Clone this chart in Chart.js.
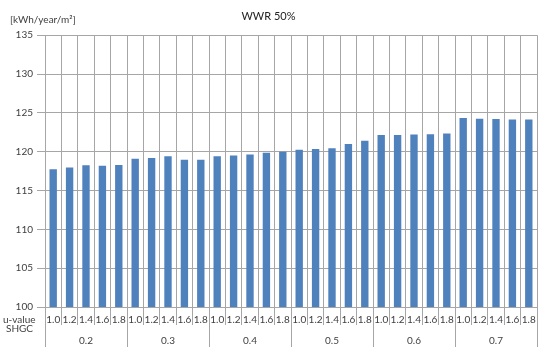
<!DOCTYPE html>
<html>
<head>
<meta charset="utf-8">
<script src="https://cdn.jsdelivr.net/npm/chart.js@4"></script>
<style>
  html, body { margin: 0; padding: 0; background: #fff; }
  #wrap { width: 550px; height: 358px; }
</style>
</head>
<body>
<div id="wrap"><canvas id="energyChart"></canvas></div>
<script>
// u-value steps inside each SHGC group
const uValues = ['1.0', '1.2', '1.4', '1.6', '1.8'];
const shgcGroups = ['0.2', '0.3', '0.4', '0.5', '0.6', '0.7'];

// energy use per SHGC group [kWh/year/m2]
const shgc02 = [117.75, 117.95, 118.25, 118.2, 118.3];
const shgc03 = [119.1, 119.2, 119.4, 118.95, 118.95];
const shgc04 = [119.4, 119.5, 119.65, 119.85, 120.0];
const shgc05 = [120.25, 120.35, 120.45, 121.0, 121.4];
const shgc06 = [122.15, 122.15, 122.2, 122.25, 122.35];
const shgc07 = [124.35, 124.25, 124.2, 124.15, 124.15];

const yTicks = [100, 105, 110, 115, 120, 125, 130, 135];

const labels = [];
shgcGroups.forEach(() => uValues.forEach(u => labels.push(u)));
const values = [].concat(shgc02, shgc03, shgc04, shgc05, shgc06, shgc07);

const gridColor = '#a6a6a6';
const textColor = '#404040';
const font = 'Lato';

// draws the SHGC row, the row captions and the unit text
const groupAxisPlugin = {
  id: 'groupAxis',
  afterDraw(chart) {
    const ctx = chart.ctx;
    const x = chart.scales.x;
    const step = x.getPixelForValue(1) - x.getPixelForValue(0);
    const n = uValues.length;
    ctx.save();
    ctx.strokeStyle = gridColor;
    ctx.lineWidth = 1;
    for (let g = 0; g <= shgcGroups.length; g++) {
      const px = Math.round(x.getPixelForValue(g * n) - step / 2) + 0.5;
      ctx.beginPath();
      ctx.moveTo(px, x.top);
      ctx.lineTo(px, x.top + 40);
      ctx.stroke();
    }
    ctx.fillStyle = textColor;
    ctx.font = '10px ' + font;
    ctx.textAlign = 'center';
    ctx.textBaseline = 'middle';
    shgcGroups.forEach((s, g) => {
      const cx = (x.getPixelForValue(g * n) + x.getPixelForValue(g * n + n - 1)) / 2;
      ctx.fillText(s, cx, x.top + 34);
    });
    ctx.textAlign = 'left';
    ctx.fillText('u-value', 3, x.top + 12.5);
    ctx.fillText('SHGC', 6, x.top + 22);
    ctx.fillText('[kWh/year/m²]', 10, 20);
    ctx.restore();
  }
};

new Chart(document.getElementById('energyChart'), {
  type: 'bar',
  data: {
    labels: labels,
    datasets: [{
      data: values,
      backgroundColor: '#4f81bd',
      barPercentage: 0.45,
      categoryPercentage: 1.0
    }]
  },
  options: {
    responsive: true,
    maintainAspectRatio: false,
    animation: false,
    layout: { padding: { left: 0, right: 13, top: 0, bottom: 0 } },
    plugins: {
      legend: { display: false },
      tooltip: { enabled: false },
      title: {
        display: true,
        text: 'WWR 50%',
        color: '#222',
        font: { family: font, size: 11, weight: 'normal' },
        padding: { top: 10, bottom: 12 }
      }
    },
    scales: {
      x: {
        afterFit: scale => { scale.height = 51; },
        grid: { color: gridColor, tickLength: 18, offset: true },
        border: { color: gridColor },
        ticks: {
          color: textColor,
          font: { family: font, size: 10 },
          padding: -11,
          maxRotation: 0,
          autoSkip: false
        }
      },
      y: {
        min: 100,
        max: 135,
        afterFit: scale => { scale.width = 45; },
        afterBuildTicks: scale => { scale.ticks = yTicks.map(v => ({ value: v })); },
        grid: { color: gridColor, tickLength: 8 },
        border: { color: gridColor },
        ticks: {
          color: textColor,
          font: { family: font, size: 10 },
          padding: 4
        }
      }
    }
  },
  plugins: [groupAxisPlugin]
});
</script>
</body>
</html>
